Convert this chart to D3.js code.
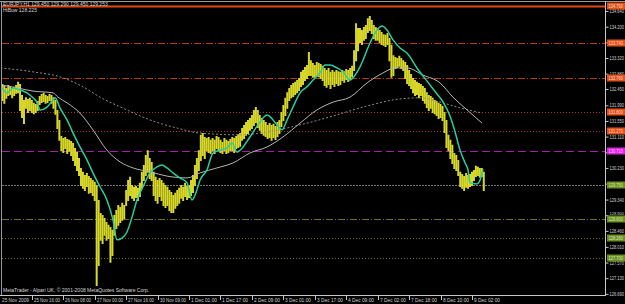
<!DOCTYPE html>
<html><head><meta charset="utf-8">
<script src="https://cdn.jsdelivr.net/npm/d3@7"></script>
<style>html,body{margin:0;padding:0;background:#000;overflow:hidden}</style>
</head><body><svg id="c" width="625" height="304"></svg>
<script>
// ---------------- DATA ----------------
const symbolTitle = "EURJPY,H1  129.450 129.290 129.450 129.253";
const indicatorTitle = "HiBuw 128.225";
const copyright = "MetaTrader - Alpari UK, \u00A9 2001-2008 MetaQuotes Software Corp.";

const highs = [132.56,
132.59,132.53,132.48,132.56,132.53,132.48,132.51,132.56,132.65,132.59,
132.28,132.14,132.22,132.17,132.20,132.14,132.06,132.03,132.11,132.25,
132.31,132.34,132.28,132.25,132.31,132.28,132.22,132.14,131.86,131.58,
131.13,131.07,131.10,131.04,131.02,130.99,130.93,130.79,130.68,130.51,
130.23,130.12,130.03,130.09,130.00,129.95,129.89,129.84,129.75,129.33,
128.96,128.91,128.82,128.71,128.63,128.57,128.49,128.91,129.05,129.19,
129.13,129.25,129.19,129.61,129.89,129.98,129.75,129.70,129.72,129.67,
129.81,130.12,130.31,130.59,130.73,130.51,130.40,130.12,129.98,129.89,
129.95,129.89,129.81,129.75,129.70,129.61,129.55,129.47,129.53,129.61,
129.67,129.75,129.70,129.81,129.72,129.75,129.89,130.03,130.31,130.51,
130.73,131.16,131.21,131.10,131.07,131.10,131.02,131.07,131.02,131.13,
131.10,131.02,130.96,131.07,131.02,130.99,131.04,131.10,131.07,131.13,
131.18,131.21,131.35,131.44,131.52,131.58,131.63,131.72,131.86,131.94,
131.86,131.72,131.63,131.58,131.52,131.44,131.49,131.44,131.47,131.41,
131.52,131.58,131.80,132.00,132.20,132.36,132.48,132.56,132.62,132.65,
132.70,132.76,132.93,132.98,133.07,133.12,133.49,133.26,133.18,133.12,
133.21,133.18,133.15,133.10,133.04,132.98,133.04,132.93,132.98,132.93,
132.98,132.95,132.93,132.98,132.95,133.01,132.98,133.04,133.10,133.54,
134.30,134.16,134.16,134.11,134.19,134.25,134.44,134.50,134.39,134.25,
134.19,134.16,134.11,134.05,133.99,133.97,134.02,133.88,133.69,133.40,
133.35,133.32,133.38,133.32,133.26,133.21,133.12,132.98,132.87,132.76,
132.70,132.65,132.62,132.59,132.53,132.48,132.36,132.28,132.25,132.20,
132.14,132.11,132.06,132.03,131.97,131.80,131.58,131.16,131.02,130.88,
130.65,130.59,130.45,130.12,130.06,130.00,130.09,130.03,130.06,130.12,
130.17,130.29,130.26,130.23,130.23,130.12];

const lows = [132.20,
132.14,132.06,132.20,132.28,132.31,132.22,132.28,132.34,132.36,131.86,
131.66,131.49,131.92,131.80,131.86,131.80,131.77,131.80,131.86,132.03,
132.08,132.11,132.06,132.08,132.14,132.06,131.92,131.75,131.35,131.02,
130.73,130.68,130.79,130.65,130.71,130.59,130.45,130.31,130.17,130.03,
129.75,129.67,129.61,129.72,129.53,129.55,129.47,129.33,126.94,127.50,
128.21,128.12,128.35,128.21,128.26,127.59,127.78,128.35,128.54,128.63,
128.71,128.77,128.82,129.19,129.33,129.47,129.39,129.33,129.41,129.33,
129.44,129.67,129.89,130.03,130.12,129.95,129.89,129.47,129.33,129.25,
129.44,129.33,129.19,129.13,129.19,129.05,128.99,128.99,129.11,129.19,
129.25,129.39,129.33,129.44,129.36,129.41,129.47,129.55,129.75,129.95,
130.17,130.45,130.59,130.51,130.73,130.68,130.65,130.73,130.65,130.79,
130.73,130.68,130.65,130.73,130.65,130.68,130.73,130.73,130.68,130.79,
130.82,130.85,131.02,131.07,131.16,131.21,131.30,131.35,131.44,131.52,
131.38,131.30,131.21,131.16,131.13,131.07,131.10,131.02,131.10,131.04,
131.13,131.21,131.41,131.58,131.72,131.92,132.14,132.22,132.25,132.31,
132.36,132.42,132.53,132.59,132.70,132.76,132.84,132.84,132.79,132.79,
132.84,132.81,132.76,132.70,132.56,132.51,132.59,132.48,132.59,132.53,
132.62,132.56,132.59,132.70,132.65,132.73,132.67,132.76,132.81,132.98,
133.26,133.54,133.77,133.71,133.83,133.88,134.05,134.11,134.02,133.88,
133.83,133.83,133.77,133.71,133.69,133.66,133.71,133.26,132.79,132.84,
133.04,133.07,133.10,133.04,132.98,132.76,132.62,132.56,132.48,132.36,
132.28,132.31,132.22,132.28,132.14,132.06,131.94,131.86,131.92,131.80,
131.77,131.72,131.63,131.66,131.58,131.24,130.82,130.73,130.51,130.37,
130.23,130.17,130.03,129.72,129.67,129.61,129.70,129.67,129.72,129.75,
129.89,130.00,130.03,129.98,130.00,129.61];

// moving averages: [bar index, price]
const maFast = [[0.8,132.48],[3.4,132.34],[6.4,132.48],[10,132.42],[13.5,132.34],[16.6,132.20],[18.6,132.08],
[20.2,131.86],[23.7,131.94],[26.8,132.14],[27.8,132.20],[30.3,131.92],[33.9,131.58],[37,131.21],[40.5,130.82],
[44.1,130.45],[47.1,130.09],[50.7,129.70],[54.2,129.33],[57.3,128.77],[59.3,128.21],[61.9,128.26],[64.4,128.43],
[67,128.85],[69.5,129.33],[72.6,129.70],[76.1,130.09],[79.7,130.26],[82.2,130.31],[84.8,130.23],[87.8,130.09],
[91.4,129.95],[95,129.81],[97.5,129.33],[100,129.61],[101.6,129.89],[105.1,130.17],[108.2,130.65],[111.8,130.73],
[115.3,130.79],[117.9,130.93],[120.4,130.68],[123.5,130.82],[127,131.10],[131.1,131.44],[135.7,131.72],
[140.8,131.44],[143.3,131.30],[145.9,131.58],[148.9,131.94],[152.5,132.34],[156,132.51],[159.1,132.70],
[162.6,132.90],[165.2,133.12],[167.7,133.12],[171.3,133.04],[174.4,132.93],[177.9,132.70],[179.4,132.76],
[183,133.07],[188.1,133.74],[191.7,134.11],[194.2,134.22],[196.7,134.11],[199.8,133.83],[203.4,133.60],
[206.9,133.46],[212,133.04],[217.1,132.67],[222.2,132.31],[225.3,132.08],[228.8,131.69],[231.4,131.24],
[233.9,130.73],[236.5,130.37],[238,130.17],[239,129.81],[242.5,129.78],[244.1,129.89],[245.6,130.20]];

const maMid = [[0.8,132.56],[8.4,132.48],[16.6,132.39],[26.8,132.34],[29.3,132.22],[33.9,132.06],[40.5,131.77],
[47.1,131.30],[54.2,130.73],[60.9,130.40],[67.5,130.23],[76.1,130.12],[84.8,130.00],[95,129.95],[101.6,130.09],
[110.2,130.23],[118.4,130.37],[127,130.65],[135.7,130.82],[143.8,131.10],[152.5,131.49],[161.1,131.86],
[169.3,132.08],[177.9,132.22],[186.6,132.62],[194.7,132.90],[200.8,133.04],[206.9,133.04],[215.1,132.84],
[223.7,132.62],[230.3,132.22],[237.5,131.86],[245.1,131.49]];

const maSlow = [[0,133.04],[16.6,132.93],[30.3,132.79],[42,132.51],[50.7,132.22],[64.4,131.86],[76.1,131.58],
[89.9,131.35],[101.6,131.21],[121.9,131.16],[135.7,131.24],[152.5,131.44],[169.3,131.69],[186.6,131.97],
[203.4,132.17],[213.5,132.20],[223.7,132.08],[233.9,131.92],[245.1,131.77]];

// horizontal price levels
const levels = [134.790, 133.740, 132.760, 131.800, 131.270, 130.710, 129.750, 128.800, 128.260, 127.700];

// price axis tick labels
const priceTicks = ["134.640","134.200","133.760","133.320","132.880","132.450","131.990","131.550","131.110",
"130.670","130.230","129.790","129.340","128.900","128.460","128.010","127.570","127.130","126.690"];
const hiddenTicks = ["133.760","130.670","129.790"];

// time axis
const timeLabels = ["25 Nov 2009","25 Nov 16:00","26 Nov 08:00","27 Nov 00:00","27 Nov 16:00","30 Nov 09:00",
"1 Dec 01:00","1 Dec 17:00","2 Dec 09:00","3 Dec 01:00","3 Dec 17:00","4 Dec 09:00","7 Dec 02:00",
"7 Dec 18:00","8 Dec 10:00","9 Dec 02:00"];
const timeLabelBars = [0,16,32,48,64,80,96,112,128,144,160,176,192,208,224,240];

// ---------------- DRAW ----------------
const W = 625, H = 304;
const plotL = 2, plotR = 605, plotT = 2, plotB = 295.5;
const tf = "Liberation Sans, Arial, sans-serif";
const svg = d3.select("#c");
svg.append("rect").attr("width", W).attr("height", H).attr("fill", "#000");

const x = d3.scaleLinear().domain([0, 300]).range([0.4, 0.4 + 1.965 * 300]);
const y = d3.scaleLinear().domain([134.95, 126.63]).range([0, 296]);

svg.append("defs").append("clipPath").attr("id", "clip")
  .append("rect").attr("x", plotL).attr("y", plotT).attr("width", plotR - plotL).attr("height", plotB - plotT);

// frame
svg.append("line").attr("x1", 0).attr("x2", W).attr("y1", 1.5).attr("y2", 1.5).attr("stroke", "#9a9a9a");
svg.append("line").attr("x1", 1.5).attr("x2", 1.5).attr("y1", 1).attr("y2", 296).attr("stroke", "#9a9a9a");
svg.append("line").attr("x1", 605.5).attr("x2", 605.5).attr("y1", 1).attr("y2", 296).attr("stroke", "#c8c8c8");
svg.append("line").attr("x1", 0).attr("x2", 606).attr("y1", 295.5).attr("y2", 295.5).attr("stroke", "#c8c8c8");

const plot = svg.append("g").attr("clip-path", "url(#clip)");

// level lines
const lvlStroke = ["#e2480f","#b63810","#b63810","#a83610","#a83610","#a020a0","#7a7a72","#6e6e28","#6e6e28","#6e6e28"];
const lvlDash   = [null,"7,2,1,2","7,2,1,2","1,2","1,2","8,4","2,1","7,2,1,2","1,2","1,2"];
const lvlWidth  = [2,1,1,1,1,1,1,1,1,1];
const boxFill   = ["#e2501a","#e2501a","#e2501a","#e2501a","#e2501a","#e020e0","#6b8e23","#6b8e23","#6b8e23","#6b8e23"];
const boxText   = ["#ffd9c0","#ffd9c0","#ffd9c0","#ffd9c0","#ffd9c0","#ffd0ff","#d8e8b0","#d8e8b0","#d8e8b0","#d8e8b0"];

plot.selectAll("line.lvl").data(levels).join("line").attr("class", "lvl")
  .attr("x1", plotL).attr("x2", plotR)
  .attr("y1", d => Math.round(y(d)) + 0.5).attr("y2", d => Math.round(y(d)) + 0.5)
  .attr("stroke", (d, i) => lvlStroke[i]).attr("stroke-width", (d, i) => lvlWidth[i])
  .attr("stroke-dasharray", (d, i) => lvlDash[i]);

// price bars (high-low)
const bars = highs.map((h, i) => ({i, h, l: lows[i]}));
plot.selectAll("line.bar").data(bars).join("line").attr("class", "bar")
  .attr("x1", d => x(d.i)).attr("x2", d => x(d.i))
  .attr("y1", d => y(d.h)).attr("y2", d => y(d.l) + 1)
  .attr("stroke", "#d8d82a").attr("stroke-width", 2);

// moving averages
const ln = d3.line().x(d => x(d[0])).y(d => y(d[1])).curve(d3.curveMonotoneX);
plot.append("path").attr("d", ln(maSlow)).attr("fill", "none").attr("stroke", "#8c8c8c").attr("stroke-width", 1).attr("stroke-dasharray", "2,2");
plot.append("path").attr("d", ln(maMid)).attr("fill", "none").attr("stroke", "#b4b4b4").attr("stroke-width", 1);
plot.append("path").attr("d", ln(maFast)).attr("fill", "none").attr("stroke", "#26cf9c").attr("stroke-width", 1.5);

// price axis
const tickVals = priceTicks.map(Number);
const yAxis = d3.axisRight(y).tickValues(tickVals).tickSize(3)
  .tickFormat((d, i) => hiddenTicks.includes(priceTicks[i]) ? "" : priceTicks[i]);
const ax = svg.append("g").attr("transform", "translate(605.5,0)").call(yAxis);
ax.select(".domain").remove();
ax.selectAll("line").attr("stroke", "#c8c8c8");
ax.selectAll("text").filter(function() { return this.textContent === ""; }).remove();
ax.selectAll("text").attr("fill", "#d0d0d0").attr("font-family", tf)
  .attr("font-size", 4.6).attr("x", 4).attr("dy", "0.35em")
  .attr("textLength", 14.5).attr("lengthAdjust", "spacingAndGlyphs");
// the label just above a level box sits slightly higher so it stays readable
ax.selectAll("text").filter(function() { return this.textContent === "128.900"; })
  .attr("dy", "0.35em").attr("y", -2).attr("font-size", 4.2);

// level price boxes
const bx = svg.selectAll("g.box").data(levels).join("g").attr("class", "box")
  .attr("transform", d => `translate(607,${Math.round(y(d))})`);
bx.append("rect").attr("x", 0).attr("y", -3.5).attr("width", 18).attr("height", 7).attr("fill", (d, i) => boxFill[i]);
bx.append("text").attr("x", 1.5).attr("y", 0).attr("dy", "0.35em").attr("font-size", 4.6)
  .attr("font-family", tf).attr("fill", (d, i) => boxText[i])
  .attr("textLength", 14.5).attr("lengthAdjust", "spacingAndGlyphs")
  .text(d => d.toFixed(3));

// time axis
const tg = svg.append("g");
timeLabels.forEach((t, k) => {
  const px = Math.round(x(timeLabelBars[k])) + 0.5;
  if (k > 0) tg.append("line").attr("x1", px).attr("x2", px).attr("y1", 296).attr("y2", 300).attr("stroke", "#c8c8c8");
  tg.append("text").attr("x", px + 1.5).attr("y", 302).attr("font-size", 4.8)
    .attr("font-family", tf).attr("fill", "#d0d0d0")
    .attr("textLength", k === 0 ? 27 : 26).attr("lengthAdjust", "spacingAndGlyphs").text(t);
});

// titles
svg.append("text").attr("x", 3).attr("y", 6).attr("font-size", 5).attr("font-family", tf).attr("fill", "#d8d8d8").text(symbolTitle);
svg.append("text").attr("x", 3).attr("y", 12).attr("font-size", 5).attr("font-family", tf).attr("fill", "#d8d8d8").text(indicatorTitle);
svg.append("text").attr("x", 3).attr("y", 292).attr("font-size", 5).attr("font-family", tf).attr("fill", "#d8d8d8").text(copyright);
</script>
</body></html>
